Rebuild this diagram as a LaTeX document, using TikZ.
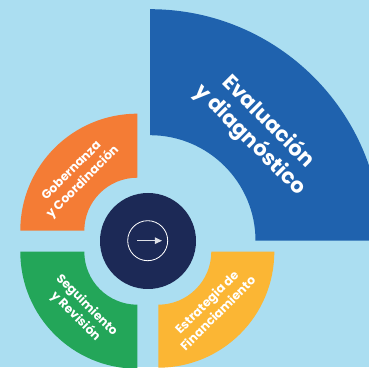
\documentclass[tikz,border=0pt]{standalone}
\usepackage{fontspec}
\setmainfont{Poppins}
\usetikzlibrary{arrows.meta}
\definecolor{bgblue}{HTML}{ABDEF1}
\definecolor{evalblue}{HTML}{1F62AE}
\definecolor{govorange}{HTML}{F47C35}
\definecolor{seggreen}{HTML}{23A659}
\definecolor{finyellow}{HTML}{FBB634}
\definecolor{hubnavy}{HTML}{1C2956}
\begin{document}
\begin{tikzpicture}[x=0.03cm,y=0.03cm,
  seglabel/.style={text=white,align=center,font=\bfseries\fontsize{10.5}{13.5}\selectfont},
  biglabel/.style={text=white,align=center,font=\bfseries\fontsize{18}{22}\selectfont}]
\fill[bgblue] (0,0) rectangle (369,367);
\clip (0,0) rectangle (369,367);

\fill[evalblue] (150,126.3) ++(0:231.5) arc[start angle=0,end angle=90,radius=231.5]
  -- ++(0,-126) arc[start angle=90,end angle=0,radius=105.5] -- cycle;
\fill[govorange] (137.3,136.3) ++(90:117) arc[start angle=90,end angle=180,radius=117]
  -- ++(64,0) arc[start angle=180,end angle=90,radius=53] -- cycle;
\fill[seggreen] (137.3,115.3) ++(180:117) arc[start angle=180,end angle=270,radius=117]
  -- ++(0,64) arc[start angle=270,end angle=180,radius=53] -- cycle;
\fill[finyellow] (158.3,115.3) ++(270:116) arc[start angle=270,end angle=360,radius=116]
  -- ++(-63,0) arc[start angle=0,end angle=-90,radius=53] -- cycle;

\fill[hubnavy] (148,126) circle[radius=48];
\draw[white,line width=0.7pt] (147.7,126.3) circle[radius=20];
\coordinate (arrowstart) at (137,126.3);
\coordinate (arrowend) at (162,126.3);
\draw[white!85!hubnavy,line width=1pt,-{Triangle[length=6pt,width=5.5pt]}] (arrowstart) -- (arrowend);

\node[biglabel,rotate=-45] (eval) at (259,236) {Evaluación\\y diagnóstico};
\node[seglabel,rotate=45] (gov) at (77.5,190) {Gobernanza\\y Coordinación};
\node[seglabel,rotate=-45] (seg) at (81,56) {Seguimiento\\y Revisión};
\node[seglabel,rotate=45] (fin) at (212,59.5) {Estrategia de\\Financiamiento};

\end{tikzpicture}
\end{document}
